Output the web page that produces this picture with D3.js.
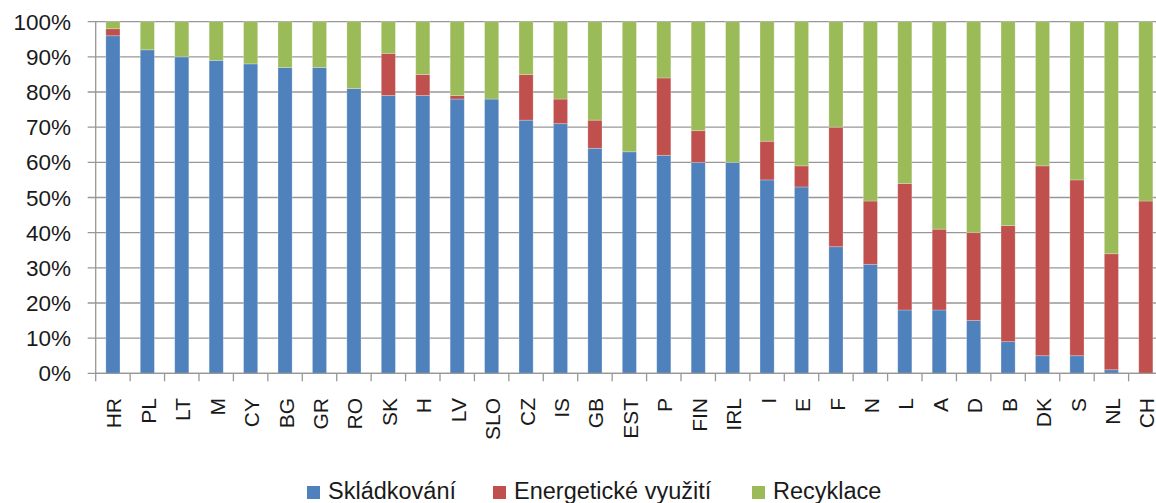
<!DOCTYPE html>
<html><head><meta charset="utf-8">
<script src="https://cdn.jsdelivr.net/npm/d3@7/dist/d3.min.js"></script>
<style>
body{margin:0;background:#fff;}
svg{display:block;font-family:"Liberation Sans",Arial,sans-serif;}
</style></head>
<body><svg id="c" width="1156" height="503"></svg>
<script>
const categories = ["HR","PL","LT","M","CY","BG","GR","RO","SK","H","LV","SLO","CZ","IS","GB","EST","P","FIN","IRL","I","E","F","N","L","A","D","B","DK","S","NL","CH"];
const skladkovani = [96,92,90,89,88,87,87,81,79,79,78,78,72,71,64,63,62,60,60,55,53,36,31,18,18,15,9,5,5,1,0];
const energeticke = [2,0,0,0,0,0,0,0,12,6,1,0,13,7,8,0,22,9,0,11,6,34,18,36,23,25,33,54,50,33,49];
const recyklace   = [2,8,10,11,12,13,13,19,9,15,21,22,15,22,28,37,16,31,40,34,41,30,51,46,59,60,58,41,45,66,51];
const seriesNames = ["Skládkování","Energetické využití","Recyklace"];
const seriesColors = ["#4F81BD","#C0504D","#9BBB59"];
const yTicks = [0,10,20,30,40,50,60,70,80,90,100];

(function(){
const svg = d3.select("#c");
const mLeft = 95.7, mTop = 21.7, mBottom = 373.3;
const step = 34.43;
const mRight = mLeft + categories.length*step;

const x = d3.scaleBand().domain(categories).range([mLeft,mRight]).paddingInner(0.59).paddingOuter(0.295);
const y = d3.scaleLinear().domain([0,100]).range([mBottom,mTop]);

// gridlines
svg.append("g").selectAll("line").data(yTicks).join("line")
  .attr("x1",mLeft-8).attr("x2",mRight)
  .attr("y1",d=>y(d)).attr("y2",d=>y(d))
  .attr("stroke","#979797").attr("stroke-width",1.3);

// y labels
svg.append("g").selectAll("text").data(yTicks).join("text")
  .attr("x",71).attr("y",d=>y(d)).attr("dy","0.36em")
  .attr("text-anchor","end").attr("font-size",22.5).attr("fill","#1a1a1a")
  .text(d=>d+"%");

// stacked data
const rows = categories.map((c,i)=>({cat:c, s0:skladkovani[i], s1:energeticke[i], s2:recyklace[i]}));
const stack = d3.stack().keys(["s0","s1","s2"])(rows);

svg.append("g").selectAll("g").data(stack).join("g")
  .attr("fill",(d,i)=>seriesColors[i])
  .selectAll("rect").data(d=>d).join("rect")
  .attr("x",d=>x(d.data.cat)).attr("width",x.bandwidth())
  .attr("y",d=>y(d[1])).attr("height",d=>Math.max(0,y(d[0])-y(d[1])))
  .attr("stroke","rgba(255,255,255,0.3)").attr("stroke-width",0.8);

// axes lines
svg.append("line").attr("x1",mLeft).attr("x2",mLeft).attr("y1",mTop).attr("y2",mBottom)
  .attr("stroke","#979797").attr("stroke-width",1.3);
svg.append("line").attr("x1",mLeft).attr("x2",mRight).attr("y1",mBottom).attr("y2",mBottom)
  .attr("stroke","#979797").attr("stroke-width",1.3);
const tickX = d3.range(categories.length+1).map(i=>mLeft+i*step);
svg.append("g").selectAll("line").data(tickX).join("line")
  .attr("x1",d=>d).attr("x2",d=>d).attr("y1",mBottom).attr("y2",mBottom+8)
  .attr("stroke","#979797").attr("stroke-width",1.3);

// x labels
svg.append("g").selectAll("text").data(categories).join("text")
  .attr("transform",d=>`translate(${x(d)+x.bandwidth()/2+1},398) rotate(-90)`)
  .attr("text-anchor","end").attr("dy","0.36em")
  .attr("font-size",21).attr("fill","#1a1a1a")
  .text(d=>d);

// legend
const legX = [307,493,752];
const lg = svg.append("g").selectAll("g").data(seriesNames).join("g")
  .attr("transform",(d,i)=>`translate(${legX[i]},486)`);
lg.append("rect").attr("width",13).attr("height",13).attr("fill",(d,i)=>seriesColors[i]);
lg.append("text").attr("x",21).attr("y",12.5).attr("font-size",23.5).attr("fill","#1a1a1a").text(d=>d);
})();
</script></body></html>
